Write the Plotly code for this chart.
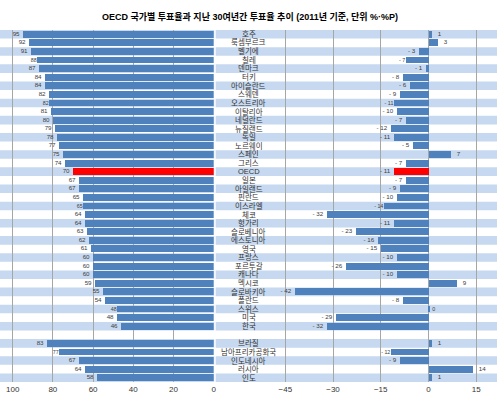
import plotly.graph_objects as go

countries = ["호주", "룩셈부르크", "벨기에", "칠레", "덴마크", "터키", "아이슬란드", "스웨덴",
             "오스트리아", "이탈리아", "네덜란드", "뉴질랜드", "독일", "노르웨이", "스페인", "그리스",
             "OECD", "일본", "아일랜드", "핀란드", "이스라엘", "체코", "헝가리", "슬로베니아",
             "에스토니아", "영국", "프랑스", "포르투갈", "캐나다", "멕시코", "슬로바키아", "폴란드",
             "스위스", "미국", "한국"]
turnout = [95, 92, 91, 88, 87, 84, 84, 82, 82, 81, 80, 79, 78, 77, 75, 74, 70, 67, 67, 65,
           65, 64, 64, 63, 62, 61, 60, 60, 60, 59, 55, 54, 48, 48, 46]
change = [1, 3, -3, -7, -1, -8, -6, -9, -11, -10, -7, -12, -11, -5, 7, -7, -11, -7, -9, -10,
          -14, -32, -11, -23, -16, -15, -10, -26, -10, 9, -42, -8, 0.3, -29, -32]

other_countries = ["브라질", "남아프리카공화국", "인도네시아", "러시아", "인도"]
other_turnout = [83, 77, 67, 64, 58]
other_change = [1, -12, -9, 14, 1]

left_ticks = [100, 80, 60, 40, 20, 0]
right_ticks = [-45, -30, -15, 0, 15]

BLUE = "#4f81bd"
RED = "#ff0000"
STRIPE = "#c6d9f0"
GRID = "#a6a6a6"
TXT = "#404040"

names = countries + other_countries
rows = list(range(len(countries))) + [len(countries) + 1 + i for i in range(len(other_countries))]
left_vals = turnout + other_turnout
right_vals = change + other_change
colors = [RED if n == "OECD" else BLUE for n in names]


def fmt(v):
    r = int(round(v))
    return f"- {abs(r)}" if r < 0 else f"\u2002{r}"


fig = go.Figure()
fig.add_trace(go.Bar(
    x=left_vals, y=rows, orientation="h", marker=dict(color=colors, line=dict(width=0)),
    width=0.8, text=[str(int(round(v))) for v in left_vals], textposition="outside",
    textfont=dict(size=8, color=TXT, family="Liberation Sans"), cliponaxis=False,
    xaxis="x", yaxis="y", showlegend=False, hoverinfo="skip"))
fig.add_trace(go.Bar(
    x=right_vals, y=rows, orientation="h", marker=dict(color=colors, line=dict(width=0)),
    width=0.8, text=[fmt(v) for v in right_vals], textposition="outside",
    textfont=dict(size=8, color=TXT, family="Liberation Sans"), cliponaxis=False,
    xaxis="x2", yaxis="y", showlegend=False, hoverinfo="skip"))

n_slots = rows[-1] + 1
shapes = []
for i in range(0, n_slots, 2):
    for x0, x1 in [(0, 0.431), (0.434, 1.0)]:
        shapes.append(dict(type="rect", xref="paper", yref="y", x0=x0, x1=x1,
                           y0=i - 0.5, y1=i + 0.5, fillcolor=STRIPE, line=dict(width=0),
                           layer="below"))

annotations = []
for n, r in zip(names, rows):
    annotations.append(dict(x=0.5, xref="paper", y=r, yref="y", text=n, showarrow=False,
                            font=dict(size=7.5, color="#333333",
                                      family="Liberation Sans, Noto Sans CJK KR"),
                            xanchor="center", yanchor="middle", borderpad=0))

fig.update_layout(
    width=500, height=397,
    margin=dict(l=0, r=0, t=30, b=15),
    paper_bgcolor="white", plot_bgcolor="white",
    title=dict(text="<b>OECD 국가별 투표율과 지난 30여년간 투표율 추이 (2011년 기준, 단위 %·%P)</b>",
               x=0.5, xanchor="center", y=1 - 17 / 397, yanchor="middle", yref="container",
               font=dict(size=9, color="#000000", family="Liberation Sans, Noto Sans CJK KR")),
    xaxis=dict(domain=[0, 0.43], range=[106.3, 0], tickvals=left_ticks, showgrid=True,
               gridcolor=GRID, gridwidth=1, zeroline=False, showline=False,
               ticks="", ticklabelstandoff=1,
               tickfont=dict(size=8, color="#333333", family="Liberation Sans")),
    xaxis2=dict(domain=[0.432, 1.0], range=[-67.2, 21.56], tickvals=right_ticks, showgrid=True,
                gridcolor=GRID, gridwidth=1, zeroline=False, showline=False,
                ticks="", ticklabelstandoff=1,
                tickfont=dict(size=8, color="#333333", family="Liberation Sans")),
    yaxis=dict(range=[n_slots - 0.5, -0.5], visible=False, showgrid=False, zeroline=False),
    shapes=shapes, annotations=annotations, bargap=0,
)

fig.write_html("out.html", config={"displayModeBar": False},
               post_script="document.body.style.margin='0';document.body.style.padding='0';")
